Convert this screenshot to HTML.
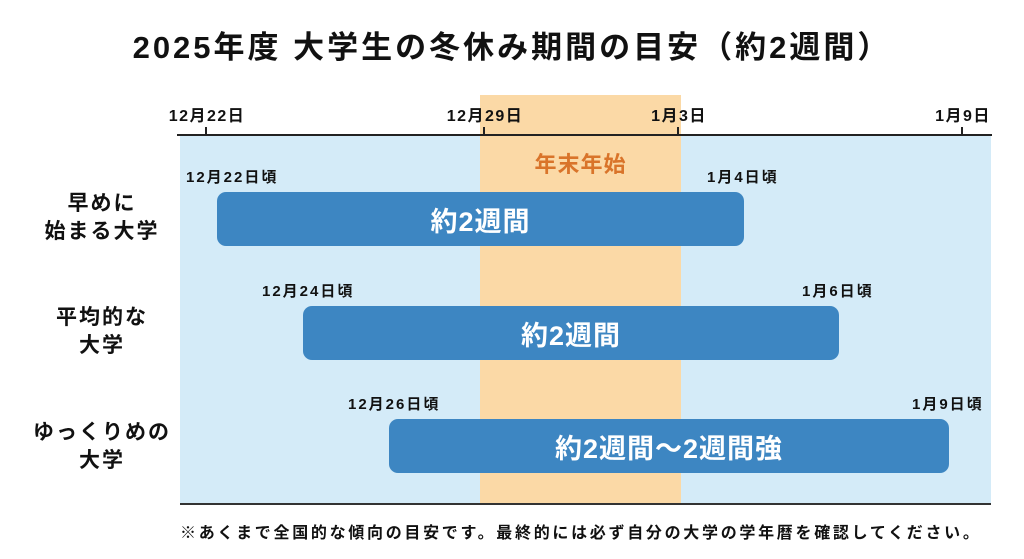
<!DOCTYPE html>
<html><head><meta charset="utf-8"><style>
body{margin:0;width:1024px;height:559px;background:#fff;position:relative;overflow:hidden;font-family:"Liberation Sans","Noto Sans CJK JP",sans-serif;color:#111}
.a{position:absolute;white-space:nowrap}
.b{position:absolute;background:#3d86c2;border-radius:9px;color:#fff;font-weight:bold;font-size:27px;letter-spacing:1px;display:flex;align-items:center;justify-content:center}
.l{position:absolute;font-weight:bold;font-size:15px;letter-spacing:2px}
.t{position:absolute;font-weight:bold;font-size:16px;letter-spacing:1.5px;transform:translateX(-50%)}
.tk{position:absolute;top:127px;width:2px;height:9px;background:#222}
.r{position:absolute;font-weight:bold;font-size:21px;letter-spacing:2px;text-align:center;width:180px;line-height:28px;left:12px}
</style></head><body>
<div class="a" style="left:0;width:1024px;top:22px;text-align:center;font-size:31px;letter-spacing:3px;font-weight:bold">2025年度 大学生の冬休み期間の目安（約2週間）</div>
<div class="a" style="left:180px;top:136px;width:811px;height:368px;background:#d4ebf8"></div>
<div class="a" style="left:480px;top:95px;width:201px;height:409px;background:#fbd9a6"></div>
<div class="a" style="left:177px;top:134px;width:815px;height:2px;background:#222"></div>
<div class="a" style="left:180px;top:503px;width:811px;height:2px;background:#333"></div>
<div class="tk" style="left:205px"></div><div class="tk" style="left:483px"></div><div class="tk" style="left:677px"></div><div class="tk" style="left:961px"></div>
<div class="t" style="left:207px;top:102px">12月22日</div>
<div class="t" style="left:485px;top:102px">12月29日</div>
<div class="t" style="left:679px;top:102px">1月3日</div>
<div class="t" style="left:963px;top:102px">1月9日</div>
<div class="a" style="left:480px;width:201px;text-align:center;top:147px;font-size:22px;letter-spacing:1px;font-weight:bold;color:#d9742a">年末年始</div>
<div class="l" style="left:186px;top:166px">12月22日頃</div>
<div class="l" style="left:707px;top:166px">1月4日頃</div>
<div class="l" style="left:262px;top:280px">12月24日頃</div>
<div class="l" style="left:802px;top:280px">1月6日頃</div>
<div class="l" style="left:348px;top:393px">12月26日頃</div>
<div class="l" style="left:912px;top:393px">1月9日頃</div>
<div class="b" style="left:217px;top:192px;width:527px;height:54px">約2週間</div>
<div class="b" style="left:303px;top:306px;width:536px;height:54px">約2週間</div>
<div class="b" style="left:389px;top:419px;width:560px;height:54px">約2週間～2週間強</div>
<div class="r" style="top:190px">早めに<br>始まる大学</div>
<div class="r" style="top:304px">平均的な<br>大学</div>
<div class="r" style="top:419px">ゆっくりめの<br>大学</div>
<div class="a" style="left:180px;top:519px;font-size:16px;letter-spacing:2.7px;font-weight:bold">※あくまで全国的な傾向の目安です。最終的には必ず自分の大学の学年暦を確認してください。</div>
</body></html>
